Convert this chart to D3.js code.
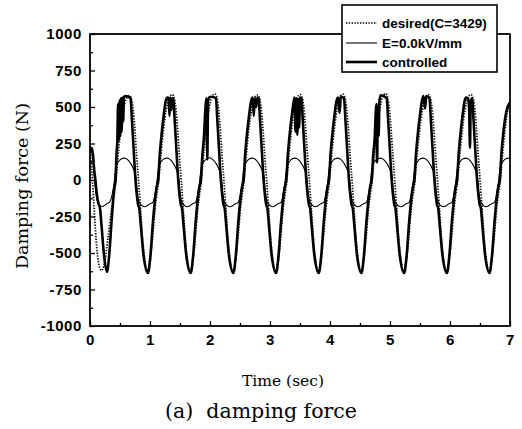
<!DOCTYPE html>
<html><head><meta charset="utf-8">
<script src="https://cdn.jsdelivr.net/npm/d3@7"></script>
<style>
html,body{margin:0;padding:0;background:#fff;}
svg{display:block;}
.tick text{font-family:"Liberation Sans",Arial,sans-serif;font-weight:bold;font-size:15px;fill:#000;letter-spacing:0.6px;}
</style></head>
<body>
<svg id="c" width="522" height="429"></svg>
<script>
// ---- data (time in s, force in N) ----
const xTicks = [0,1,2,3,4,5,6,7];
const yTicks = [-1000,-750,-500,-250,0,250,500,750,1000];
const legendLabels = ["desired(C=3429)","E=0.0kV/mm","controlled"];

const desired = [
[0,250],[0.02,110],[0.04,0],[0.07,-200],[0.1,-400],[0.14,-560],[0.19,-620],[0.24,-570],[0.3,-400],[0.36,-200],
[0.433,0],[0.467,160],[0.508,330],[0.558,480],[0.608,560],[0.658,578],[0.7,540],[0.742,380],[0.775,180],[0.808,0],[0.842,-200],[0.875,-400],[0.917,-560],[0.958,-622],[1.0,-560],[1.042,-400],[1.083,-200],
[1.145,0],[1.179,160],[1.22,330],[1.27,480],[1.32,565],[1.37,585],[1.412,545],[1.454,380],[1.487,180],[1.52,0],[1.554,-200],[1.587,-400],[1.629,-560],[1.67,-625],[1.712,-560],[1.754,-400],[1.795,-200],
[1.856,0],[1.89,160],[1.931,330],[1.981,480],[2.031,570],[2.081,590],[2.123,548],[2.165,380],[2.198,180],[2.231,0],[2.265,-200],[2.298,-400],[2.34,-560],[2.381,-628],[2.423,-560],[2.465,-400],[2.506,-200],
[2.568,0],[2.602,160],[2.643,330],[2.693,480],[2.743,565],[2.793,582],[2.835,545],[2.877,380],[2.91,180],[2.943,0],[2.977,-200],[3.01,-400],[3.052,-560],[3.093,-625],[3.135,-560],[3.177,-400],[3.218,-200],
[3.28,0],[3.314,160],[3.355,330],[3.405,480],[3.455,565],[3.505,585],[3.547,545],[3.589,380],[3.622,180],[3.655,0],[3.689,-200],[3.722,-400],[3.764,-560],[3.805,-625],[3.847,-560],[3.889,-400],[3.93,-200],
[3.991,0],[4.025,160],[4.066,330],[4.116,480],[4.166,568],[4.216,588],[4.258,545],[4.3,380],[4.333,180],[4.366,0],[4.4,-200],[4.433,-400],[4.475,-560],[4.516,-628],[4.558,-560],[4.6,-400],[4.641,-200],
[4.703,0],[4.737,160],[4.778,330],[4.828,480],[4.878,570],[4.928,592],[4.97,548],[5.012,380],[5.045,180],[5.078,0],[5.112,-200],[5.145,-400],[5.187,-560],[5.228,-625],[5.27,-560],[5.312,-400],[5.353,-200],
[5.415,0],[5.449,160],[5.49,330],[5.54,480],[5.59,565],[5.64,585],[5.682,545],[5.724,380],[5.757,180],[5.79,0],[5.824,-200],[5.857,-400],[5.899,-560],[5.94,-625],[5.982,-560],[6.024,-400],[6.065,-200],
[6.126,0],[6.16,160],[6.201,330],[6.251,480],[6.301,565],[6.351,585],[6.393,545],[6.435,380],[6.468,180],[6.501,0],[6.535,-200],[6.568,-400],[6.61,-560],[6.651,-625],[6.693,-560],[6.735,-400],[6.776,-200],
[6.838,0],[6.872,160],[6.913,330],[6.963,480],[7.0,540]
];

const eZero = [
[0,200],[0.03,200],[0.06,80],[0.09,-60],[0.12,-140],[0.17,-175],[0.21,-182],[0.25,-172],[0.29,-160],[0.33,-150],[0.395,-40],
[0.437,95],[0.475,125],[0.525,145],[0.575,150],[0.625,140],[0.675,115],[0.725,75],[0.765,20],[0.79,-90],[0.81,-140],[0.855,-172],[0.905,-183],[0.955,-176],[1.0,-162],[1.045,-155],[1.107,-40],
[1.149,95],[1.187,125],[1.237,145],[1.287,150],[1.337,140],[1.387,115],[1.437,75],[1.477,20],[1.502,-90],[1.522,-140],[1.567,-172],[1.617,-183],[1.667,-176],[1.712,-162],[1.757,-155],[1.818,-40],
[1.86,95],[1.898,125],[1.948,145],[1.998,152],[2.048,140],[2.098,115],[2.148,75],[2.188,20],[2.213,-90],[2.233,-140],[2.278,-172],[2.328,-183],[2.378,-176],[2.423,-162],[2.468,-155],[2.53,-40],
[2.572,95],[2.61,125],[2.66,145],[2.71,150],[2.76,140],[2.81,115],[2.86,75],[2.9,20],[2.925,-90],[2.945,-140],[2.99,-172],[3.04,-183],[3.09,-176],[3.135,-162],[3.18,-155],[3.242,-40],
[3.284,95],[3.322,125],[3.372,145],[3.422,150],[3.472,140],[3.522,115],[3.572,75],[3.612,20],[3.637,-90],[3.657,-140],[3.702,-172],[3.752,-183],[3.802,-176],[3.847,-162],[3.892,-155],[3.953,-40],
[3.995,95],[4.033,125],[4.083,145],[4.133,150],[4.183,140],[4.233,115],[4.283,75],[4.323,20],[4.348,-90],[4.368,-140],[4.413,-172],[4.463,-183],[4.513,-176],[4.558,-162],[4.603,-155],[4.665,-40],
[4.707,95],[4.745,125],[4.795,145],[4.845,150],[4.895,140],[4.945,115],[4.995,75],[5.035,20],[5.06,-90],[5.08,-140],[5.125,-172],[5.175,-183],[5.225,-176],[5.27,-162],[5.315,-155],[5.377,-40],
[5.419,95],[5.457,125],[5.507,145],[5.557,150],[5.607,140],[5.657,115],[5.707,75],[5.747,20],[5.772,-90],[5.792,-140],[5.837,-172],[5.887,-183],[5.937,-176],[5.982,-162],[6.027,-155],[6.088,-40],
[6.13,95],[6.168,125],[6.218,145],[6.268,150],[6.318,140],[6.368,115],[6.418,75],[6.458,20],[6.483,-90],[6.503,-140],[6.548,-172],[6.598,-183],[6.648,-176],[6.693,-162],[6.738,-155],[6.8,-40],
[6.842,95],[6.88,125],[6.93,145],[6.98,150],[7.0,148]
];

const controlled = [
[0,190],[0.015,212],[0.03,218],[0.05,170],[0.07,70],[0.09,0],[0.115,-100],[0.14,-160],[0.165,-188],[0.19,-300],[0.235,-520],[0.283,-630],[0.32,-514],[0.36,-281],[0.405,-55],
[0.425,0],[0.445,200],[0.455,260],[0.468,520],[0.48,270],[0.492,545],[0.503,300],[0.515,560],[0.527,330],[0.54,565],[0.552,400],[0.565,570],[0.6,575],[0.675,560],[0.70,404],[0.733,171],[0.758,0],[0.785,-120],[0.805,-175],[0.82,-190],[0.845,-300],[0.892,-514],[0.967,-637],[1.008,-514],[1.05,-281],[1.108,-55],
[1.137,0],[1.162,171],[1.187,288],[1.229,445],[1.262,541],[1.287,565],[1.31,560],[1.325,440],[1.34,565],[1.355,480],[1.37,560],[1.387,560],[1.412,404],[1.445,171],[1.47,0],[1.497,-120],[1.517,-175],[1.532,-190],[1.557,-300],[1.604,-514],[1.679,-637],[1.72,-514],[1.762,-281],[1.82,-55],
[1.848,0],[1.873,171],[1.898,288],[1.925,500],[1.94,560],[1.955,140],[1.968,540],[1.985,565],[2.02,570],[2.098,560],[2.123,404],[2.156,171],[2.181,0],[2.208,-120],[2.228,-175],[2.243,-190],[2.268,-300],[2.315,-514],[2.39,-637],[2.431,-514],[2.473,-281],[2.531,-55],
[2.56,0],[2.585,171],[2.61,288],[2.652,445],[2.685,541],[2.71,565],[2.73,440],[2.745,560],[2.77,500],[2.79,565],[2.81,560],[2.835,404],[2.868,171],[2.893,0],[2.92,-120],[2.94,-175],[2.955,-190],[2.98,-300],[3.027,-514],[3.102,-637],[3.143,-514],[3.185,-281],[3.243,-55],
[3.272,0],[3.297,171],[3.322,288],[3.364,445],[3.397,541],[3.41,565],[3.425,330],[3.44,560],[3.455,310],[3.47,555],[3.485,360],[3.5,565],[3.522,560],[3.547,404],[3.58,171],[3.605,0],[3.632,-120],[3.652,-175],[3.667,-190],[3.692,-300],[3.739,-514],[3.814,-637],[3.855,-514],[3.897,-281],[3.955,-55],
[3.983,0],[4.008,171],[4.033,288],[4.075,445],[4.108,541],[4.133,565],[4.16,460],[4.18,570],[4.233,560],[4.258,404],[4.291,171],[4.316,0],[4.343,-120],[4.363,-175],[4.378,-190],[4.403,-300],[4.45,-514],[4.525,-637],[4.566,-514],[4.608,-281],[4.666,-55],
[4.695,0],[4.72,171],[4.745,288],[4.765,480],[4.775,520],[4.785,120],[4.797,500],[4.81,300],[4.825,545],[4.845,580],[4.945,560],[4.97,404],[5.003,171],[5.028,0],[5.055,-120],[5.075,-175],[5.09,-190],[5.115,-300],[5.162,-514],[5.237,-637],[5.278,-514],[5.32,-281],[5.378,-55],
[5.407,0],[5.432,171],[5.457,288],[5.499,445],[5.532,541],[5.557,575],[5.585,490],[5.605,575],[5.657,560],[5.682,404],[5.715,171],[5.74,0],[5.767,-120],[5.787,-175],[5.802,-190],[5.827,-300],[5.874,-514],[5.949,-637],[5.99,-514],[6.032,-281],[6.09,-55],
[6.118,0],[6.143,171],[6.168,288],[6.21,445],[6.243,541],[6.268,565],[6.3,560],[6.318,500],[6.333,220],[6.345,530],[6.368,560],[6.393,404],[6.426,171],[6.451,0],[6.478,-120],[6.498,-175],[6.513,-190],[6.538,-300],[6.585,-514],[6.66,-637],[6.701,-514],[6.743,-281],[6.801,-55],
[6.83,0],[6.855,171],[6.88,288],[6.922,430],[6.96,500],[7.0,530]
];

// ---- drawing ----
const svg = d3.select("#c");
const L = 90, R = 510, T = 34, B = 326;
const x = d3.scaleLinear().domain([0,7]).range([L,R]);
const y = d3.scaleLinear().domain([-1000,1000]).range([B,T]);

svg.append("defs").append("clipPath").attr("id","clip")
  .append("rect").attr("x",L).attr("y",T).attr("width",R-L).attr("height",B-T);

const line = d3.line().x(d=>x(d[0])).y(d=>y(d[1])).curve(d3.curveMonotoneX);
const g = svg.append("g").attr("clip-path","url(#clip)");

g.append("path").datum(desired).attr("d",line)
  .attr("fill","none").attr("stroke","#111").attr("stroke-width",1.8)
  .attr("stroke-dasharray","1.4,1.4");
g.append("path").datum(eZero).attr("d",line)
  .attr("fill","none").attr("stroke","#000").attr("stroke-width",1.1);
g.append("path").datum(controlled).attr("d",line)
  .attr("fill","none").attr("stroke","#000").attr("stroke-width",2.6)
  .attr("stroke-linejoin","round");

// axes (inward ticks)
const minorY = d3.range(-875, 1000, 250);
const minorX = d3.range(0.5, 7, 1);
svg.append("g").attr("transform",`translate(${L},0)`)
  .call(d3.axisLeft(y).tickValues(minorY).tickSize(-3).tickFormat(""))
  .call(a=>a.select(".domain").remove())
  .selectAll("line").attr("stroke","#000").attr("stroke-width",1.3);
svg.append("g").attr("transform",`translate(0,${B})`)
  .call(d3.axisBottom(x).tickValues(minorX).tickSize(-3).tickFormat(""))
  .call(a=>a.select(".domain").remove())
  .selectAll("line").attr("stroke","#000").attr("stroke-width",1.3);

const ya = svg.append("g").attr("transform",`translate(${L},0)`)
  .call(d3.axisLeft(y).tickValues(yTicks).tickSize(-5).tickPadding(8).tickFormat(d=>String(d)))
  .call(a=>a.select(".domain").remove());
ya.selectAll("line").attr("stroke","#000").attr("stroke-width",1.3);
const xa = svg.append("g").attr("transform",`translate(0,${B})`)
  .call(d3.axisBottom(x).tickValues(xTicks).tickSize(-5).tickPadding(8).tickFormat(d=>String(d)))
  .call(a=>a.select(".domain").remove());
xa.selectAll("line").attr("stroke","#000").attr("stroke-width",1.3);

// frame
svg.append("rect").attr("x",L).attr("y",T).attr("width",R-L).attr("height",B-T)
  .attr("fill","none").attr("stroke","#000").attr("stroke-width",1.8);

// axis titles
svg.append("text").attr("transform",`translate(28,${(T+B)/2+6}) rotate(-90)`)
  .attr("text-anchor","middle").attr("font-family","DejaVu Serif, serif")
  .attr("font-size",17.5).text("Damping force (N)");
svg.append("text").attr("x",283).attr("y",386).attr("text-anchor","middle")
  .attr("font-family","DejaVu Serif, serif").attr("font-size",15.5).text("Time (sec)");
svg.append("text").attr("x",261).attr("y",418).attr("text-anchor","middle")
  .attr("font-family","DejaVu Serif, serif").attr("font-size",20.5)
  .attr("xml:space","preserve").text("(a)  damping force");

// legend
const lg = svg.append("g");
lg.append("rect").attr("x",342).attr("y",5).attr("width",155).attr("height",67)
  .attr("fill","#fff").attr("stroke","#000").attr("stroke-width",1.6);
const styles = [
  {w:1.5, dash:"1.4,1.4"},
  {w:1.1, dash:null},
  {w:2.6, dash:null}
];
const ly = [23,43,62];
legendLabels.forEach((lab,i)=>{
  const l = lg.append("line").attr("x1",346).attr("x2",377).attr("y1",ly[i]).attr("y2",ly[i])
    .attr("stroke","#000").attr("stroke-width",styles[i].w);
  if(styles[i].dash) l.attr("stroke-dasharray",styles[i].dash);
  lg.append("text").attr("x",382).attr("y",ly[i]+4.5)
    .attr("font-family","Liberation Sans, Arial, sans-serif").attr("font-weight","bold")
    .attr("font-size",13.5).text(lab);
});
</script>
</body></html>
